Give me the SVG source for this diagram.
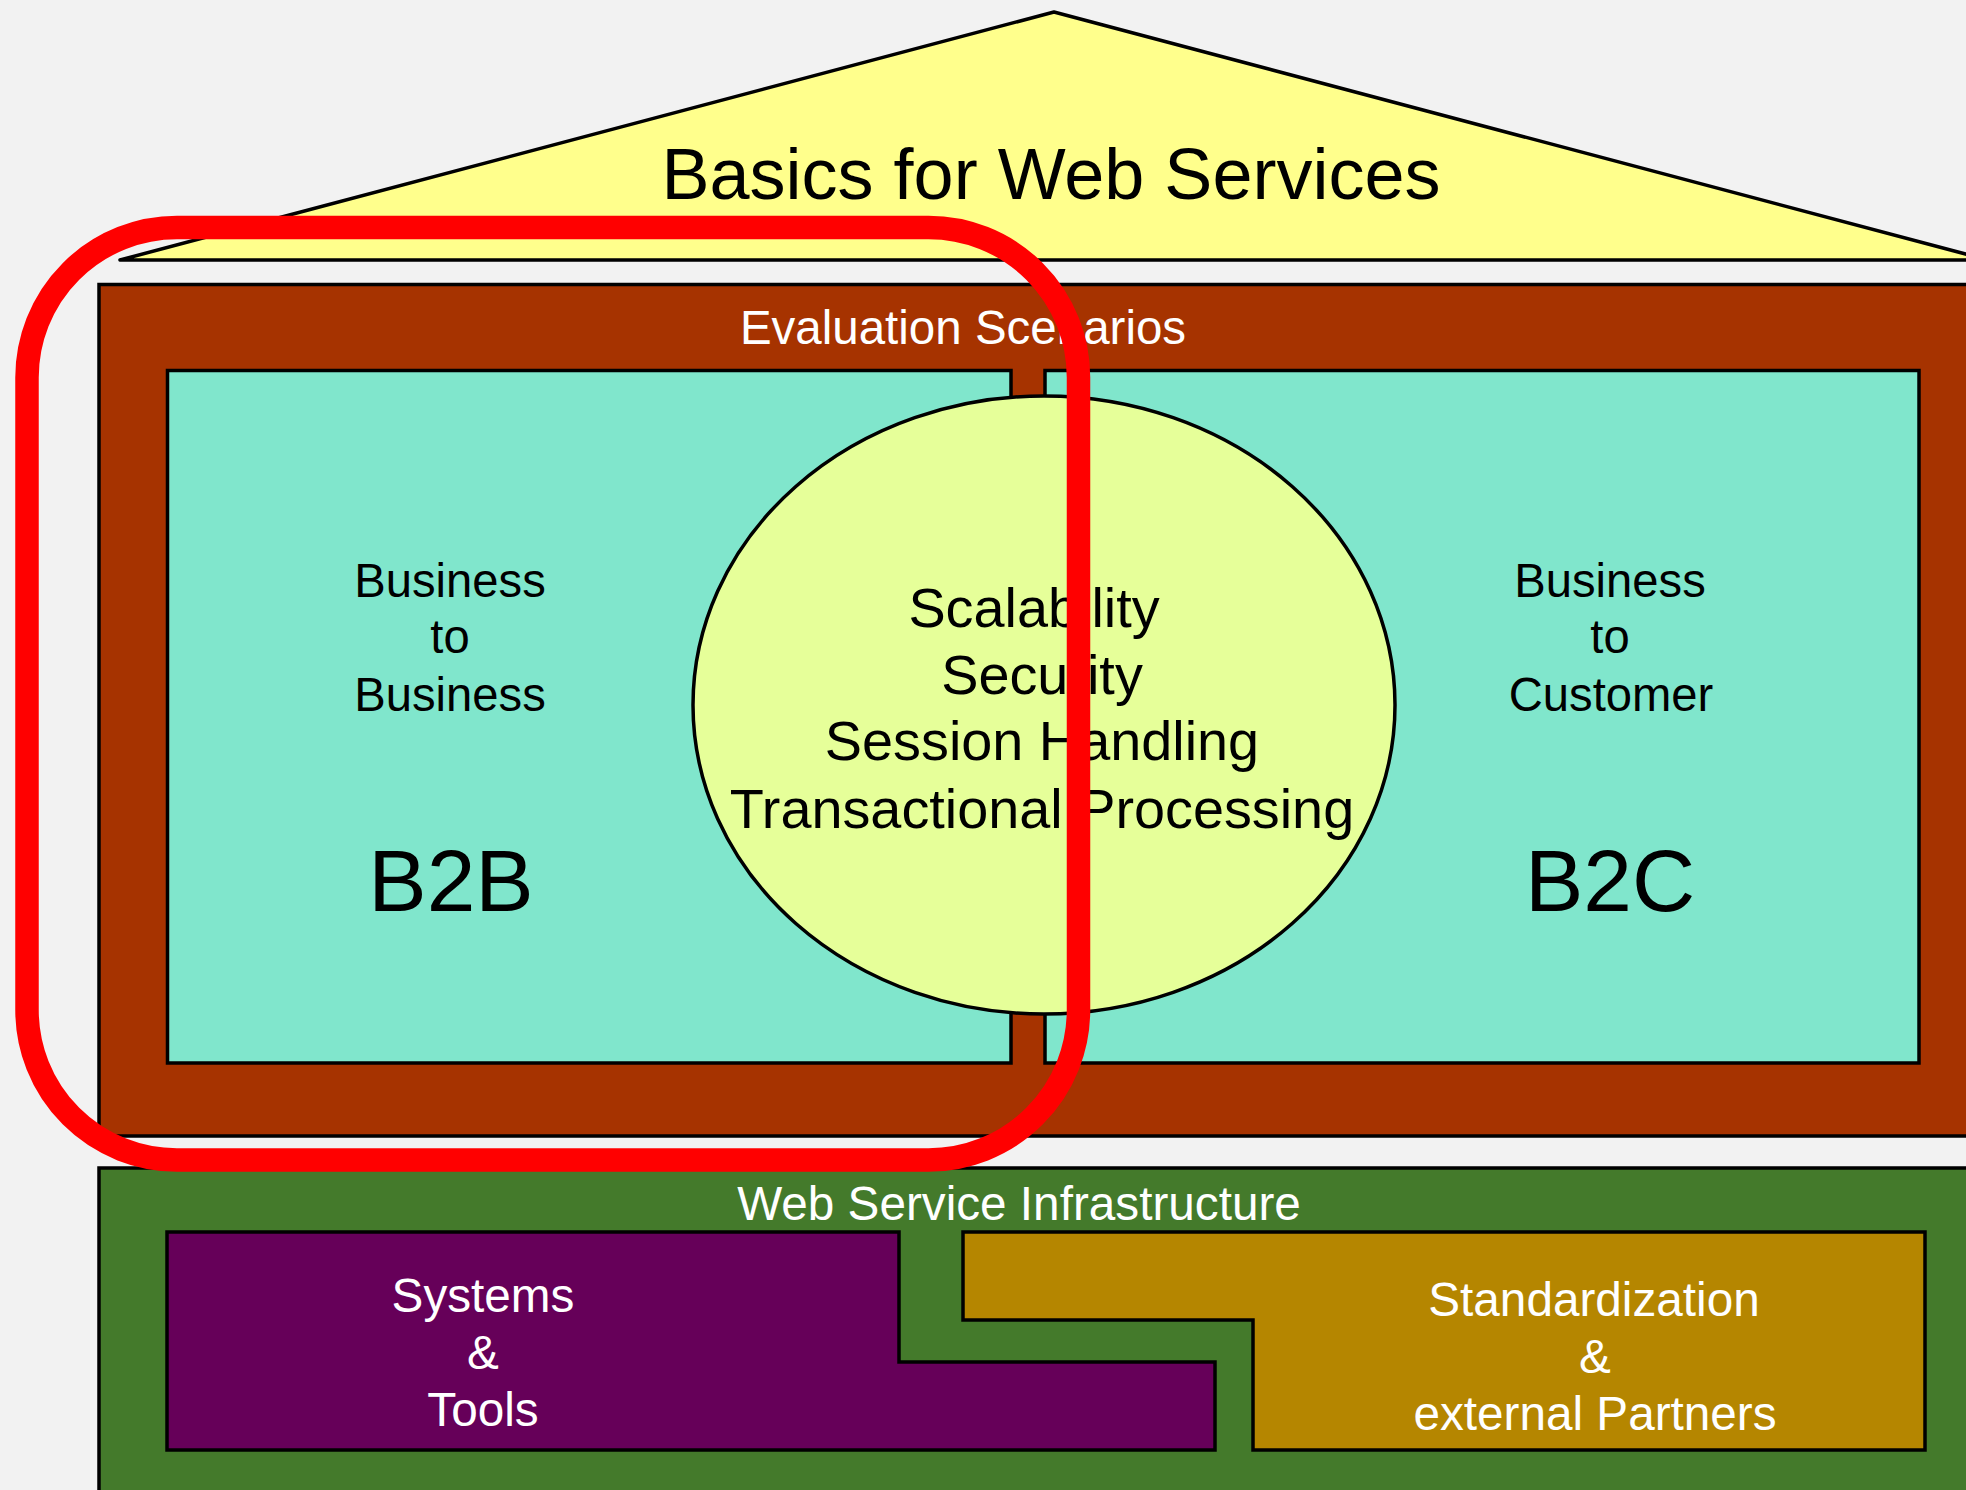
<svg xmlns="http://www.w3.org/2000/svg" width="1966" height="1490" viewBox="0 0 1966 1490">
<style>
text{font-family:"Liberation Sans",Arial,sans-serif;text-anchor:middle}
.blk{fill:#000}
.wht{fill:#fff}
.ln{stroke:#000;stroke-width:3.5}
</style>
<rect x="0" y="0" width="1966" height="1490" fill="#F2F2F2"/>
<g id="roof">
<polygon class="ln" points="1054,12 120,260 1988,260" fill="#FFFF8C" stroke-linejoin="round"/>
<text class="blk" x="1051" y="199" font-size="72">Basics for Web Services</text>
</g>
<g id="evaluation">
<rect class="ln" x="99" y="284.5" width="1900" height="851.5" fill="#A63300"/>
<text class="wht" x="963" y="344" font-size="47.5">Evaluation Scenarios</text>
</g>
<g id="b2b">
<rect class="ln" x="167.5" y="370.5" width="843.5" height="692.5" fill="#80E6CC"/>
<text class="blk" x="450" y="597" font-size="47.2">Business</text>
<text class="blk" x="450" y="653" font-size="47.2">to</text>
<text class="blk" x="450" y="710.5" font-size="47.2">Business</text>
<text class="blk" x="451" y="910.5" font-size="87.5">B2B</text>
</g>
<g id="b2c">
<rect class="ln" x="1045" y="370.5" width="874" height="692.5" fill="#80E6CC"/>
<text class="blk" x="1610" y="597" font-size="47.2">Business</text>
<text class="blk" x="1610" y="653" font-size="47.2">to</text>
<text class="blk" x="1611" y="710.5" font-size="47.2">Customer</text>
<text class="blk" x="1610" y="910.5" font-size="87.5">B2C</text>
</g>
<g id="qualities">
<ellipse class="ln" cx="1044" cy="705" rx="351" ry="309" fill="#E6FF99" stroke-width="3"/>
<text class="blk" x="1034" y="627" font-size="55.8">Scalability</text>
<text class="blk" x="1042" y="694" font-size="55.8">Security</text>
<text class="blk" x="1042" y="759.5" font-size="55.8">Session Handling</text>
<text class="blk" x="1042" y="827.5" font-size="55.8">Transactional Processing</text>
</g>
<g id="infrastructure">
<rect class="ln" x="99" y="1168" width="1900" height="400" fill="#447A2B"/>
<text class="wht" x="1019" y="1220" font-size="47.7">Web Service Infrastructure</text>
</g>
<g id="systems">
<path class="ln" d="M167,1232 H899 V1362 H1215 V1450 H167 Z" fill="#660059"/>
<text class="wht" x="483" y="1312" font-size="47.7">Systems</text>
<text class="wht" x="483" y="1369" font-size="47.7">&amp;</text>
<text class="wht" x="483" y="1426" font-size="47.7">Tools</text>
</g>
<g id="standardization">
<path class="ln" d="M963,1232 H1925 V1450 H1253 V1320 H963 Z" fill="#B58600"/>
<text class="wht" x="1594" y="1316" font-size="47.7">Standardization</text>
<text class="wht" x="1595" y="1373" font-size="47.7">&amp;</text>
<text class="wht" x="1595" y="1430" font-size="47.7">external Partners</text>
</g>
<g id="highlight">
<rect x="27" y="227.5" width="1051.5" height="932.5" rx="150" ry="150" fill="none" stroke="#FF0000" stroke-width="23.5"/>
</g>
<g id="connectors"></g>
</svg>
